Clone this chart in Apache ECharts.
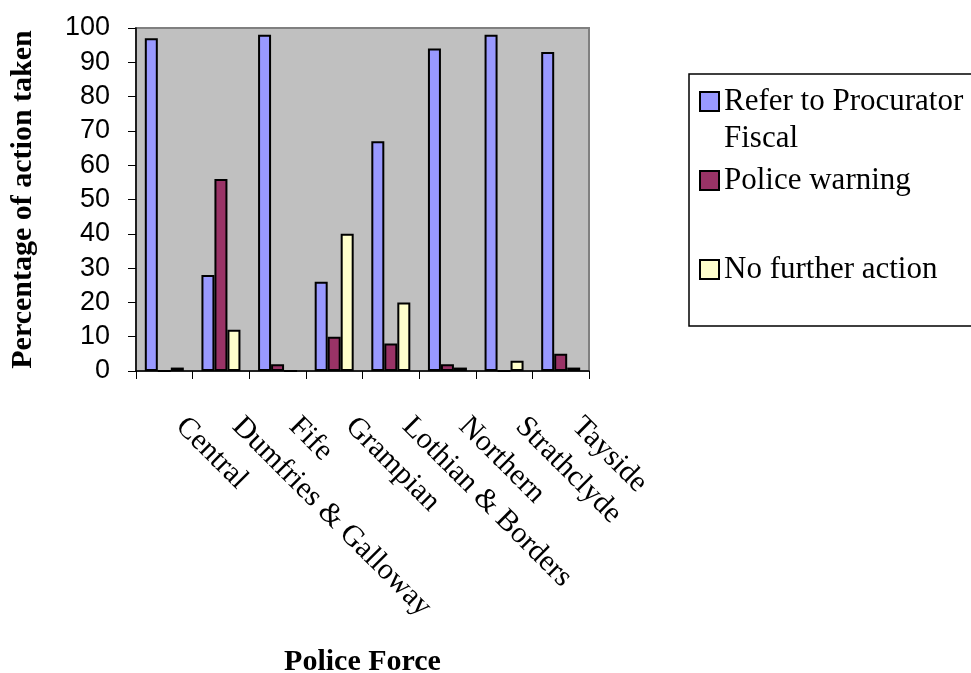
<!DOCTYPE html>
<html>
<head>
<meta charset="utf-8">
<script src="https://cdn.jsdelivr.net/npm/echarts@6/dist/echarts.min.js"></script>
<style>html,body{margin:0;padding:0;background:#fff;}#chart{width:971px;height:673px;}</style>
</head>
<body>
<div id="chart"></div>
<script>
const categories = ['Central', 'Dumfries & Galloway', 'Fife', 'Grampian', 'Lothian & Borders', 'Northern', 'Strathclyde', 'Tayside'];
const referToFiscal = [97, 28, 98, 26, 67, 94, 98, 93];
const policeWarning = [0, 56, 2, 10, 8, 2, 0, 5];
const noFurtherAction = [1, 12, 0, 40, 20, 1, 3, 1];
const seriesNames = ['Refer to Procurator Fiscal', 'Police warning', 'No further action'];
const yTicks = { min: 0, max: 100, interval: 10 };

const serif = 'Liberation Serif';
const sans = 'Liberation Sans';
const colors = ['#9999FF', '#993366', '#FFFFCC'];

const chart = echarts.init(document.getElementById('chart'), null, { renderer: 'canvas' });

function mkSeries(name, data, color) {
  return {
    name: name,
    type: 'bar',
    data: data,
    barWidth: 13,
    barGap: '0%',
    itemStyle: { color: color, borderColor: '#000', borderWidth: 2 },
    emphasis: { disabled: true },
    animation: false
  };
}

function mkLegend(name, top, fmt) {
  return {
    data: [name],
    left: 699,
    top: top,
    padding: 0,
    icon: 'rect',
    itemWidth: 19,
    itemHeight: 19,
    selectedMode: false,
    formatter: fmt || undefined,
    textStyle: { fontFamily: serif, fontSize: 31, color: '#000', lineHeight: 37 }
  };
}

chart.setOption({
  backgroundColor: '#fff',
  animation: false,
  grid: {
    left: 136, right: 382, top: 28, bottom: 302,
    outerBoundsMode: 'none',
    containLabel: false,
    show: true, backgroundColor: '#C0C0C0', borderColor: '#808080', borderWidth: 2
  },
  legend: [
    mkLegend(seriesNames[0], 46, function () { return '\nRefer to Procurator\nFiscal'; }),
    mkLegend(seriesNames[1], 162),
    mkLegend(seriesNames[2], 251)
  ],
  graphic: [{
    type: 'rect',
    shape: { x: 689, y: 74, width: 320, height: 252 },
    style: { fill: 'none', stroke: '#000', lineWidth: 1.5 },
    z: -1
  }],
  xAxis: {
    type: 'category',
    data: categories,
    boundaryGap: true,
    name: 'Police Force',
    nameLocation: 'middle',
    nameGap: 276,
    nameTextStyle: { fontFamily: serif, fontWeight: 'bold', fontSize: 30, color: '#000' },
    axisLine: { show: true, lineStyle: { color: '#000', width: 1.5 } },
    axisTick: { show: true, alignWithLabel: false, length: 8, lineStyle: { color: '#000', width: 1 } },
    axisLabel: {
      rotate: -45, interval: 0, margin: 35,
      formatter: function (v) { return '   ' + v; },
      fontFamily: serif, fontSize: 30, color: '#000'
    },
    splitLine: { show: false }
  },
  yAxis: {
    type: 'value',
    min: yTicks.min, max: yTicks.max, interval: yTicks.interval,
    name: 'Percentage of action taken',
    nameLocation: 'middle',
    nameGap: 98,
    nameRotate: 90,
    nameTextStyle: { fontFamily: serif, fontWeight: 'bold', fontSize: 30, color: '#000' },
    axisLine: { show: true, lineStyle: { color: '#000', width: 1.5 } },
    axisTick: { show: true, length: 8, lineStyle: { color: '#000', width: 1 } },
    axisLabel: { fontFamily: sans, fontSize: 27, color: '#000', margin: 26 },
    splitLine: { show: false }
  },
  series: [
    mkSeries(seriesNames[0], referToFiscal, colors[0]),
    mkSeries(seriesNames[1], policeWarning, colors[1]),
    mkSeries(seriesNames[2], noFurtherAction, colors[2])
  ]
});
</script>
</body>
</html>
